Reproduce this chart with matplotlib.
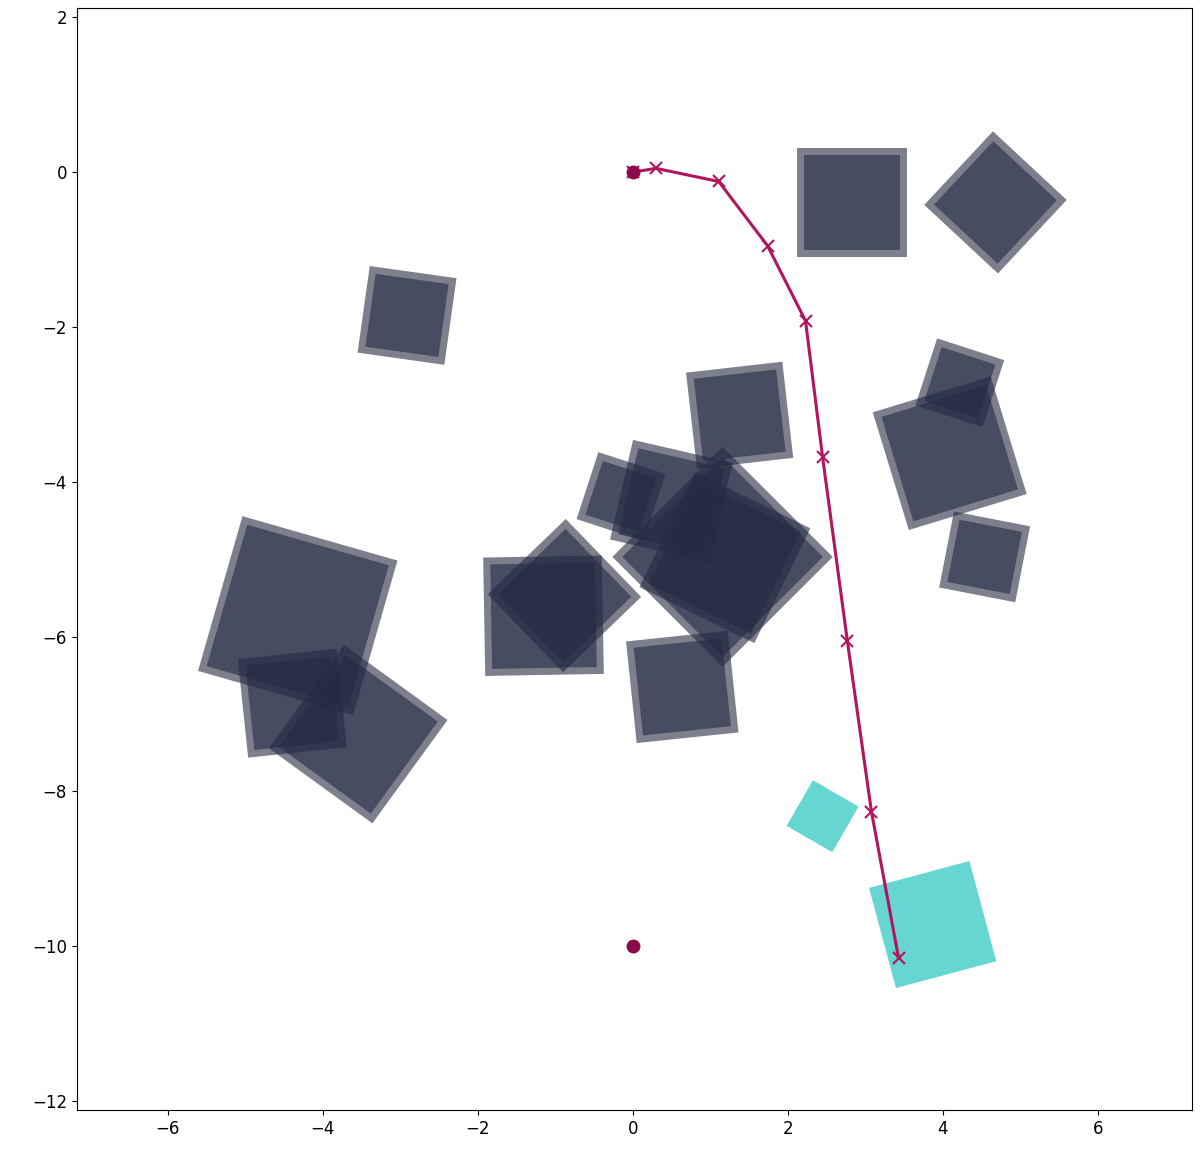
import numpy as np
import matplotlib
matplotlib.use("Agg")
import matplotlib.pyplot as plt
from matplotlib.patches import Polygon

# Obstacles (dark squares): centre x, centre y, outer side, rotation (deg)
obs_x = [-2.91, 2.83, 4.68, 1.38, 4.22, 4.09, 4.54, -4.32, -4.39, -3.54, -1.15, -0.88, -0.15, 0.50, 1.16, 1.19, 0.64]
obs_y = [-1.85, -0.39, -0.39, -3.14, -2.72, -3.63, -4.97, -5.73, -6.86, -7.26, -5.73, -5.47, -4.19, -4.25, -4.97, -4.98, -6.65]
obs_size = [1.13, 1.41, 1.30, 1.25, 0.91, 1.59, 1.00, 2.08, 1.28, 1.65, 1.53, 1.40, 0.91, 1.32, 2.01, 1.65, 1.32]
obs_angle = [-8, 0, -43, 6.5, -18, 17, -11, -16, 6, -36, 1, 44, -18, -13, 45, -26, 6]
margin = 0.09

# Goal regions (cyan squares)
goal_x = [2.45, 3.87]
goal_y = [-8.32, -9.72]
goal_size = [0.68, 1.34]
goal_angle = [-30, 15]

# Trajectory
traj_x = [0.0, 0.30, 1.11, 1.74, 2.23, 2.45, 2.77, 3.08, 3.43]
traj_y = [0.0, 0.05, -0.12, -0.95, -1.92, -3.68, -6.06, -8.26, -10.15]

# Start / target points
pt_x = [0.0, 0.0]
pt_y = [0.0, -10.0]


def square(cx, cy, s, ang):
    a = np.deg2rad(ang)
    h = s / 2.0
    base = np.array([[-h, -h], [h, -h], [h, h], [-h, h]])
    R = np.array([[np.cos(a), -np.sin(a)], [np.sin(a), np.cos(a)]])
    return base @ R.T + np.array([cx, cy])


fig = plt.figure(figsize=(12, 11.59), dpi=100)
ax = fig.add_axes([0.064, 0.042, 0.929, 0.951])

ncol = '#262a42'
for cx, cy, s, a in zip(obs_x, obs_y, obs_size, obs_angle):
    ax.add_patch(Polygon(square(cx, cy, s, a), closed=True, facecolor=ncol,
                         edgecolor='none', alpha=0.6))
    ax.add_patch(Polygon(square(cx, cy, s - 2 * margin, a), closed=True,
                         facecolor=ncol, edgecolor='none', alpha=0.6))

for cx, cy, s, a in zip(goal_x, goal_y, goal_size, goal_angle):
    ax.add_patch(Polygon(square(cx, cy, s, a), closed=True, facecolor='#67d6d2',
                         edgecolor='none', alpha=1.0))

ax.plot(traj_x, traj_y, color='#b0155e', lw=2.2, marker='x', markersize=8,
        markeredgewidth=1.5)
ax.plot(pt_x, pt_y, 'o', color='#8b0a4a', markersize=9, linestyle='none')

ax.set_xlim(-7.17, 7.21)
ax.set_ylim(-12.12, 2.12)
ax.set_xticks([-6, -4, -2, 0, 2, 4, 6])
ax.set_yticks([-12, -10, -8, -6, -4, -2, 0, 2])
ax.tick_params(labelsize=12)

fig.savefig('out.png', dpi=100)
